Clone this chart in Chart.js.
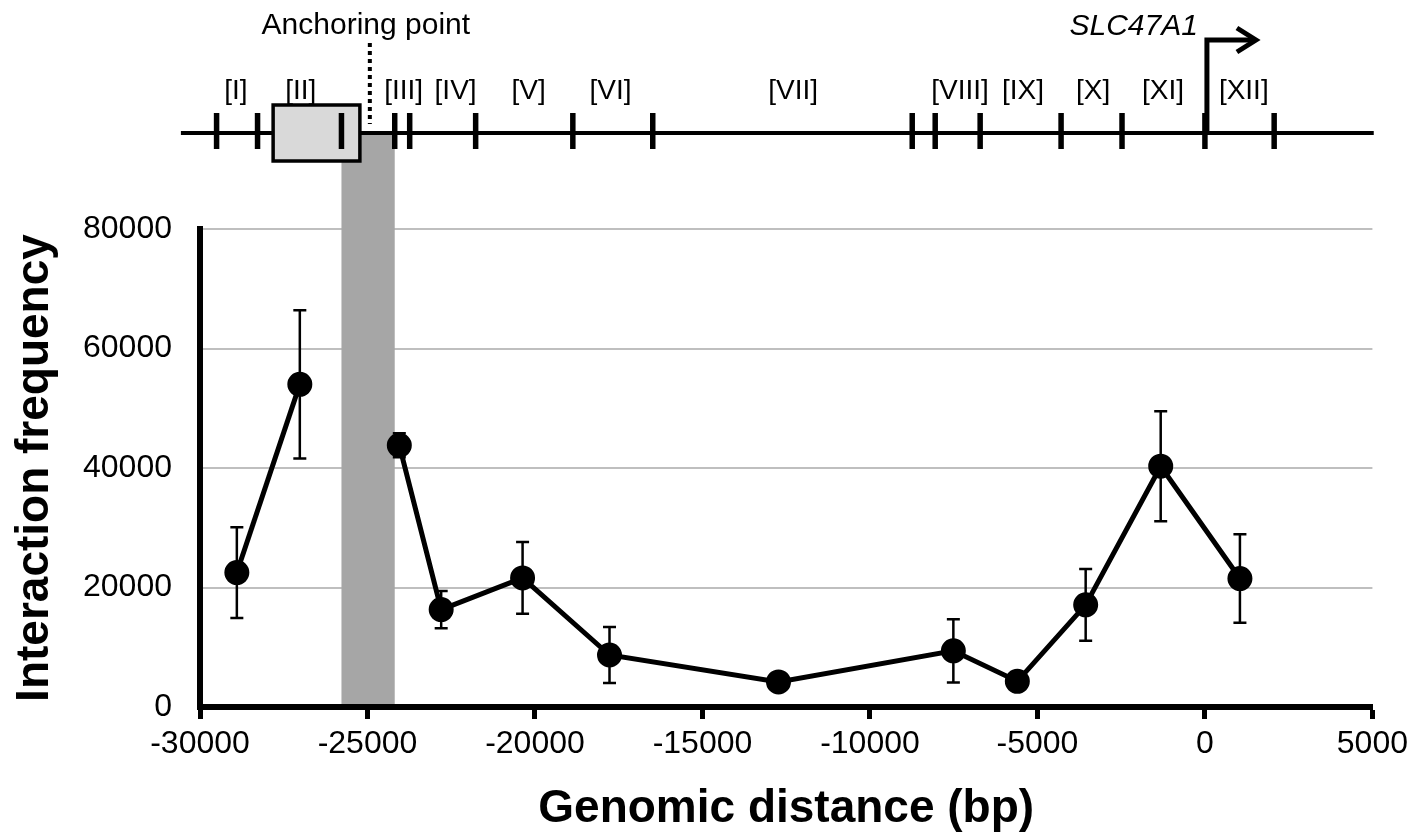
<!DOCTYPE html>
<html>
<head>
<meta charset="utf-8">
<title>Interaction frequency around SLC47A1</title>
<script src="https://cdn.jsdelivr.net/npm/chart.js@4.4.1/dist/chart.umd.min.js"></script>
<style>
    html, body { margin: 0; padding: 0; background: #fff; }
    #wrap { width: 1414px; height: 839px; }
</style>
</head>
<body>
<div id="wrap"><canvas id="chart"></canvas></div>
<script>
// 3C profile - interaction frequency vs genomic distance from the SLC47A1 TSS
const distances   = [-28900, -27020, -24050, -22800, -20370, -17775, -12730, -7510, -5600, -3560, -1320, 1045];
const frequencies = [22500, 54000, 43800, 16300, 21600, 8700, 4200, 9400, 4300, 17100, 40300, 21500];
const errors      = [7600, 12400, 2000, 3100, 6000, 4700, 500, 5300, 600, 6000, 9200, 7400];

const xMin = -30000, xMax = 5000, xStep = 5000;
const yMin = 0, yMax = 80000, yStep = 20000;

// restriction fragment map drawn above the plot
const fragmentLabels = ['[I]', '[II]', '[III]', '[IV]', '[V]', '[VI]', '[VII]', '[VIII]', '[IX]', '[X]', '[XI]', '[XII]'];
const fragmentLabelPos = [-28930, -26990, -23920, -22370, -20190, -17745, -12290, -7310, -5430, -3340, -1250, 1160];
const cutSites = [-29505, -28282, -25777, -24187, -23740, -21771, -18870, -16484, -8738, -8052, -6710, -4294, -2475, 0, 2067];
const trackRange = [-30570, 5040];
const baitBox = [-27817, -25227];
const anchorBand = [-25777, -24187];
const anchorPoint = -24930;
const tssPos = 0;

const FONT = '"Liberation Sans", Arial, sans-serif';
const TRACK_Y = 133;

const mapPlugin = {
    id: 'fragmentMap',
    beforeDatasetsDraw(chart) {
        const { ctx, chartArea, scales: { x, y } } = chart;
        ctx.save();
        // anchoring fragment band
        const l = x.getPixelForValue(anchorBand[0]);
        const r = x.getPixelForValue(anchorBand[1]);
        ctx.fillStyle = '#a6a6a6';
        ctx.fillRect(l, TRACK_Y + 2, r - l, chartArea.bottom - 3 - TRACK_Y - 2);

        // error bars
        ctx.strokeStyle = '#000';
        ctx.lineWidth = 2.5;
        distances.forEach((d, i) => {
            const px = x.getPixelForValue(d);
            const top = y.getPixelForValue(frequencies[i] + errors[i]);
            const bot = y.getPixelForValue(frequencies[i] - errors[i]);
            ctx.beginPath();
            ctx.moveTo(px, top); ctx.lineTo(px, bot);
            ctx.moveTo(px - 6.5, top); ctx.lineTo(px + 6.5, top);
            ctx.moveTo(px - 6.5, bot); ctx.lineTo(px + 6.5, bot);
            ctx.stroke();
        });
        ctx.restore();
    },
    afterDraw(chart) {
        const { ctx, scales: { x } } = chart;
        ctx.save();
        ctx.strokeStyle = '#000';
        ctx.fillStyle = '#000';

        // main track line
        ctx.lineWidth = 4;
        ctx.beginPath();
        ctx.moveTo(x.getPixelForValue(trackRange[0]), TRACK_Y);
        ctx.lineTo(x.getPixelForValue(trackRange[1]), TRACK_Y);
        ctx.stroke();

        // bait box
        const bl = x.getPixelForValue(baitBox[0]);
        const br = x.getPixelForValue(baitBox[1]);
        ctx.fillStyle = '#d9d9d9';
        ctx.fillRect(bl, 105, br - bl, 56);
        ctx.lineWidth = 3.5;
        ctx.strokeRect(bl, 105, br - bl, 56);

        // cut sites
        ctx.lineWidth = 5.5;
        cutSites.forEach(c => {
            const px = x.getPixelForValue(c);
            ctx.beginPath();
            ctx.moveTo(px, TRACK_Y - 20);
            ctx.lineTo(px, TRACK_Y + 16);
            ctx.stroke();
        });

        // anchoring point marker
        const ap = x.getPixelForValue(anchorPoint);
        ctx.lineWidth = 4;
        ctx.setLineDash([4, 4]);
        ctx.beginPath();
        ctx.moveTo(ap, 43);
        ctx.lineTo(ap, 124);
        ctx.stroke();
        ctx.setLineDash([]);

        ctx.fillStyle = '#000';
        ctx.textAlign = 'center';
        ctx.textBaseline = 'alphabetic';
        ctx.font = '30px ' + FONT;
        ctx.fillText('Anchoring point', ap - 4, 34);

        // fragment labels
        ctx.font = '28px ' + FONT;
        ctx.textBaseline = 'middle';
        fragmentLabels.forEach((t, i) => {
            ctx.fillText(t, x.getPixelForValue(fragmentLabelPos[i]), 91);
        });

        // TSS arrow
        const tp = x.getPixelForValue(tssPos) + 2;
        ctx.lineWidth = 5;
        ctx.beginPath();
        ctx.moveTo(tp, TRACK_Y);
        ctx.lineTo(tp, 40);
        ctx.lineTo(tp + 48, 40);
        ctx.stroke();
        ctx.beginPath();
        ctx.moveTo(tp + 30, 28);
        ctx.lineTo(tp + 49, 40);
        ctx.lineTo(tp + 30, 52);
        ctx.stroke();

        ctx.font = 'italic 30px ' + FONT;
        ctx.textAlign = 'right';
        ctx.textBaseline = 'alphabetic';
        ctx.fillText('SLC47A1', tp - 9, 35);
        ctx.restore();
    }
};

// no line across the anchoring fragment itself
const acrossAnchor = ctx => ctx.p0.parsed.x < anchorPoint && ctx.p1.parsed.x > anchorPoint;

new Chart(document.getElementById('chart'), {
    type: 'line',
    data: {
        datasets: [{
            label: 'Interaction frequency',
            data: distances.map((d, i) => ({ x: d, y: frequencies[i] })),
            borderColor: '#000',
            backgroundColor: '#000',
            borderWidth: 5,
            pointRadius: 10,
            pointBackgroundColor: '#000',
            pointBorderColor: '#000',
            tension: 0,
            segment: {
                borderColor: ctx => acrossAnchor(ctx) ? 'rgba(0,0,0,0)' : undefined
            }
        }]
    },
    options: {
        responsive: true,
        maintainAspectRatio: false,
        animation: false,
        layout: { padding: { top: 229, right: 41, left: 0, bottom: 0 } },
        plugins: {
            legend: { display: false },
            tooltip: { enabled: false }
        },
        scales: {
            x: {
                type: 'linear',
                min: xMin,
                max: xMax,
                afterFit(scale) { scale.height = 132; },
                ticks: {
                    stepSize: xStep,
                    color: '#000',
                    padding: 6,
                    font: { family: FONT, size: 32 },
                    callback: v => String(v)
                },
                grid: {
                    drawOnChartArea: false,
                    drawTicks: true,
                    tickLength: 12,
                    tickWidth: 5,
                    tickColor: '#000'
                },
                border: { color: '#000', width: 6 },
                title: {
                    display: true,
                    text: 'Genomic distance (bp)',
                    color: '#000',
                    font: { family: FONT, size: 46, weight: 'bold' },
                    padding: { top: 0, bottom: 2 }
                }
            },
            y: {
                min: yMin,
                max: yMax,
                afterFit(scale) { scale.width = 200; },
                ticks: {
                    stepSize: yStep,
                    color: '#000',
                    padding: 28,
                    font: { family: FONT, size: 32 },
                    callback: v => String(v)
                },
                grid: {
                    color: '#bfbfbf',
                    lineWidth: 2,
                    drawTicks: false
                },
                border: { color: '#000', width: 6 },
                title: {
                    display: true,
                    text: 'Interaction frequency',
                    color: '#000',
                    font: { family: FONT, size: 46, weight: 'bold' },
                    padding: { top: 8, bottom: 0 }
                }
            }
        }
    },
    plugins: [mapPlugin]
});
</script>
</body>
</html>
